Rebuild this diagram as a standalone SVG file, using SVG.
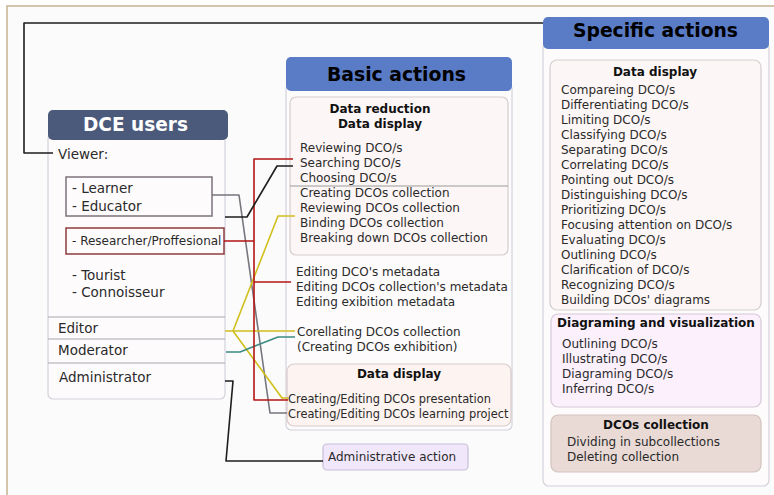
<svg xmlns="http://www.w3.org/2000/svg" width="774" height="495" viewBox="0 0 774 495">
<style>
.t{font-family:"DejaVu Sans",Verdana,sans-serif;font-size:12px;fill:#2a2a2a}
.l{font-size:13.5px}
.s{font-size:11.4px}
.b{font-weight:bold;fill:#111}
.h{font-family:"DejaVu Sans",Verdana,sans-serif;font-weight:bold;font-size:19px}
.body{fill:#fdfbfc;stroke:#d2d2dc;stroke-width:1.2}
.inner{fill:#fdf6f6;stroke:#d6cece;stroke-width:1.2}
.sep{stroke:#a8a8b0;stroke-width:1.2}
.c{fill:none;stroke-linejoin:round;stroke-width:1.6}
</style>
<rect x="0" y="0" width="774" height="495" fill="#ffffff"/>
<rect x="7" y="6" width="780" height="500" fill="#fbfbfb" stroke="#c8b38f" stroke-width="1.5"/>

<g id="dce-users">
  <rect class="body" x="48" y="134" width="177" height="265" rx="5"/>
  <rect x="48" y="110" width="180" height="30" rx="5" fill="#4b5a7b"/>
  <text class="h" x="83" y="131" fill="#ffffff" textLength="105" lengthAdjust="spacingAndGlyphs">DCE users</text>
  <text class="t l" x="58" y="159">Viewer:</text>
  <rect x="66" y="177" width="146" height="39" fill="#fdfbfc" stroke="#7d717b" stroke-width="1.5"/>
  <text class="t l" x="72" y="193">- Learner</text>
  <text class="t l" x="72" y="211">- Educator</text>
  <rect x="66" y="228" width="158" height="26" fill="#fdfbfc" stroke="#8e3c3c" stroke-width="1.5"/>
  <text class="t" x="72" y="245">- Researcher/Proffesional</text>
  <text class="t l" x="72" y="280">- Tourist</text>
  <text class="t l" x="72" y="297">- Connoisseur</text>
  <line class="sep" x1="48" y1="317" x2="225" y2="317"/>
  <text class="t l" x="58" y="333">Editor</text>
  <line class="sep" x1="48" y1="339" x2="225" y2="339"/>
  <text class="t l" x="58" y="355">Moderator</text>
  <line class="sep" x1="48" y1="363" x2="225" y2="363"/>
  <text class="t l" x="59" y="382">Administrator</text>
</g>

<g id="basic-actions">
  <rect class="body" x="286" y="84" width="226" height="346" rx="5"/>
  <rect x="286" y="57" width="226" height="34" rx="5" fill="#5a7bc5"/>
  <text class="h" x="327" y="81" fill="#000" textLength="139" lengthAdjust="spacingAndGlyphs">Basic actions</text>
</g>

<g id="data-reduction">
  <rect class="inner" x="290" y="97" width="218" height="158" rx="6"/>
  <text class="t b" x="380" y="113" text-anchor="middle">Data reduction</text>
  <text class="t b" x="380" y="128" text-anchor="middle">Data display</text>
  <text class="t" x="300" y="152">Reviewing DCO/s</text>
  <text class="t" x="300" y="167">Searching DCO/s</text>
  <text class="t" x="300" y="182">Choosing DCO/s</text>
  <line x1="290" y1="186" x2="508" y2="186" stroke="#9a9a9a" stroke-width="1.2"/>
  <text class="t" x="300" y="197">Creating DCOs collection</text>
  <text class="t" x="300" y="212">Reviewing DCOs collection</text>
  <text class="t" x="300" y="227">Binding DCOs collection</text>
  <text class="t" x="300" y="242">Breaking down DCOs collection</text>
</g>

<g id="metadata">
  <text class="t" x="296" y="276">Editing DCO's metadata</text>
  <text class="t" x="296" y="291">Editing DCOs collection's metadata</text>
  <text class="t" x="296" y="306">Editing exibition metadata</text>
</g>

<g id="correlating">
  <text class="t" x="297" y="336">Corellating DCOs collection</text>
  <text class="t" x="297" y="351">(Creating DCOs exhibition)</text>
</g>

<g id="basic-data-display">
  <rect x="287" y="364" width="224" height="62" rx="7" fill="#fdf3f0" stroke="#d8cccc" stroke-width="1.2"/>
  <text class="t b" x="399" y="378" text-anchor="middle">Data display</text>
  <text class="t s" x="288" y="403">Creating/Editing DCOs presentation</text>
  <text class="t s" x="288" y="418">Creating/Editing DCOs learning project</text>
</g>

<g id="administrative-action">
  <rect x="323" y="444" width="145" height="26" rx="4" fill="#f1e7fa" stroke="#c9bdd9" stroke-width="1.2"/>
  <text class="t" x="328" y="461">Administrative action</text>
</g>

<g id="specific-actions">
  <rect class="body" x="543" y="42" width="226" height="444" rx="6"/>
  <rect x="543" y="17" width="226" height="32" rx="5" fill="#5a7bc5"/>
  <text class="h" x="573" y="37" fill="#000" textLength="165" lengthAdjust="spacingAndGlyphs">Specific actions</text>
</g>

<g id="specific-data-display">
  <rect class="inner" x="550" y="60" width="211" height="250" rx="7"/>
  <text class="t b" x="655" y="76" font-size="13.5" text-anchor="middle">Data display</text>
  <text class="t" x="561" y="94">Compareing DCO/s</text>
  <text class="t" x="561" y="109">Differentiating DCO/s</text>
  <text class="t" x="561" y="124">Limiting DCO/s</text>
  <text class="t" x="561" y="139">Classifying DCO/s</text>
  <text class="t" x="561" y="154">Separating DCO/s</text>
  <text class="t" x="561" y="169">Correlating DCO/s</text>
  <text class="t" x="561" y="184">Pointing out DCO/s</text>
  <text class="t" x="561" y="199">Distinguishing DCO/s</text>
  <text class="t" x="561" y="214">Prioritizing DCO/s</text>
  <text class="t" x="561" y="229">Focusing attention on DCO/s</text>
  <text class="t" x="561" y="244">Evaluating DCO/s</text>
  <text class="t" x="561" y="259">Outlining DCO/s</text>
  <text class="t" x="561" y="274">Clarification of DCO/s</text>
  <text class="t" x="561" y="289">Recognizing DCO/s</text>
  <text class="t" x="561" y="304">Building DCOs' diagrams</text>
</g>

<g id="diagraming">
  <rect x="551" y="314" width="210" height="93" rx="7" fill="#fbf0fc" stroke="#d8c9d8" stroke-width="1.2"/>
  <text class="t b" x="656" y="327" text-anchor="middle">Diagraming and visualization</text>
  <text class="t" x="562" y="348">Outlining DCO/s</text>
  <text class="t" x="562" y="363">Illustrating DCO/s</text>
  <text class="t" x="562" y="378">Diagraming DCO/s</text>
  <text class="t" x="562" y="393">Inferring DCO/s</text>
</g>

<g id="dcos-collection">
  <rect x="551" y="415" width="210" height="57" rx="7" fill="#e9dad6" stroke="#d3c3bf" stroke-width="1.2"/>
  <text class="t b" x="656" y="429" font-size="11" text-anchor="middle">DCOs collection</text>
  <text class="t" x="567" y="446">Dividing in subcollections</text>
  <text class="t" x="567" y="461">Deleting collection</text>
</g>

<g id="connectors">
  <path class="c" d="M53,153 H24 V23 H543" stroke="#1e1e1e"/>
  <path class="c" d="M212,195 H239 L270,413 H287" stroke="#76767e"/>
  <path class="c" d="M225,331 H295 M233,331 L278,216 H295 M233,331 L282,398 H288" stroke="#d1bf1c"/>
  <path class="c" d="M226,352 H240 L278,337 H295" stroke="#3d8c84"/>
  <path class="c" d="M293,159 H254 V400 H288 M224,241 H254 M254,282 H291" stroke="#b51515" stroke-width="2.8"/>
  <path class="c" d="M225,217 H247 L277,166 H293" stroke="#1e1e1e"/>
  <path class="c" d="M225,381 H233 L226,461 H323" stroke="#1e1e1e"/>
</g>
</svg>
